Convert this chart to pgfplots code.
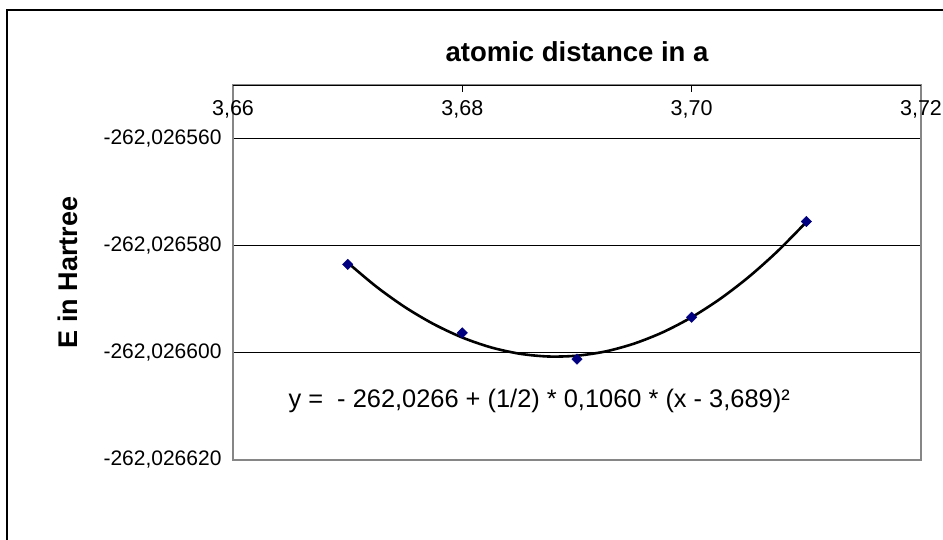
\documentclass[border=0pt]{standalone}
\usepackage{fontspec}
\setmainfont{Liberation Sans}
\usepackage{pgfplots}
\pgfplotsset{compat=1.18}

% Energies are stored as offsets in micro-Hartree:
% E = -262.026 Hartree + y * 1e-6 Hartree
\definecolor{markblue}{HTML}{000080}
\definecolor{frame}{HTML}{868686}

\begin{document}
\begin{tikzpicture}
\useasboundingbox (0,0) rectangle (943pt,539pt);
% outer chart frame
\draw[line width=1.8pt] (7pt,-5pt) -- (7pt,529pt) -- (950pt,529pt);

\begin{axis}[
  at={(233pt,79pt)}, anchor=south west,
  scale only axis, width=688pt, height=375pt,
  xmin=3.66, xmax=3.72, ymin=-620, ymax=-550,
  /pgf/number format/assume math mode=true,
  axis line style={draw=frame, line width=2pt},
  xtick={3.66,3.68,3.70,3.72},
  xticklabels={{3,66},{3,68},{3,70},{3,72}},
  xtick pos=right, xticklabel pos=right,
  tick align=inside, major tick length=7pt,
  xtick style={draw=black, line width=0.8pt},
  xticklabel style={anchor=north, yshift=-12pt, font=\fontsize{21.5}{26}\selectfont},
  ytick={-620,-600,-580,-560},
  yticklabels={{-262,026620},{-262,026600},{-262,026580},{-262,026560}},
  ytick style={draw=none},
  yticklabel pos=left,
  yticklabel style={font=\fontsize{21}{25}\selectfont, xshift=-8pt},
  ymajorgrids,
  major grid style={black, line width=0.9pt},
  title={atomic distance in a},
  title style={at={(axis description cs:0.5,1.072)}, anchor=center,
    font=\bfseries\fontsize{27.5}{33}\selectfont},
  ylabel={E in Hartree},
  ylabel style={at={(axis description cs:-0.240,0.5)}, anchor=center,
    font=\bfseries\fontsize{27}{32}\selectfont},
  clip=false,
]
% top axis line
\draw[black, line width=1pt] (rel axis cs:0,1) -- (rel axis cs:1,1);

% quadratic trendline
\addplot[black, line width=2.6pt, smooth] coordinates {
  (3.6700,-583.16) (3.6725,-587.64) (3.6750,-591.47) (3.6775,-594.63)
  (3.6800,-597.14) (3.6825,-598.98) (3.6850,-600.16) (3.6875,-600.68)
  (3.6900,-600.53) (3.6925,-599.73) (3.6950,-598.26) (3.6975,-596.14)
  (3.7000,-593.35) (3.7025,-589.90) (3.7050,-585.79) (3.7075,-581.01)
  (3.7100,-575.58)
};

% computed energies
\addplot[only marks, mark=square*, mark size=3.7pt,
  mark options={rotate=45, fill=markblue, draw=markblue}] coordinates {
  (3.67,-583.48) (3.68,-596.27) (3.69,-601.18) (3.70,-593.35) (3.71,-575.47)
};

\node[anchor=base west, font=\fontsize{25.4}{30}\selectfont]
  at (rel axis cs:0.0756,0.1413)
  {y =\ \ - 262,0266 + (1/2) * 0,1060 * (x - 3,689)²};
\end{axis}
\end{tikzpicture}
\end{document}
